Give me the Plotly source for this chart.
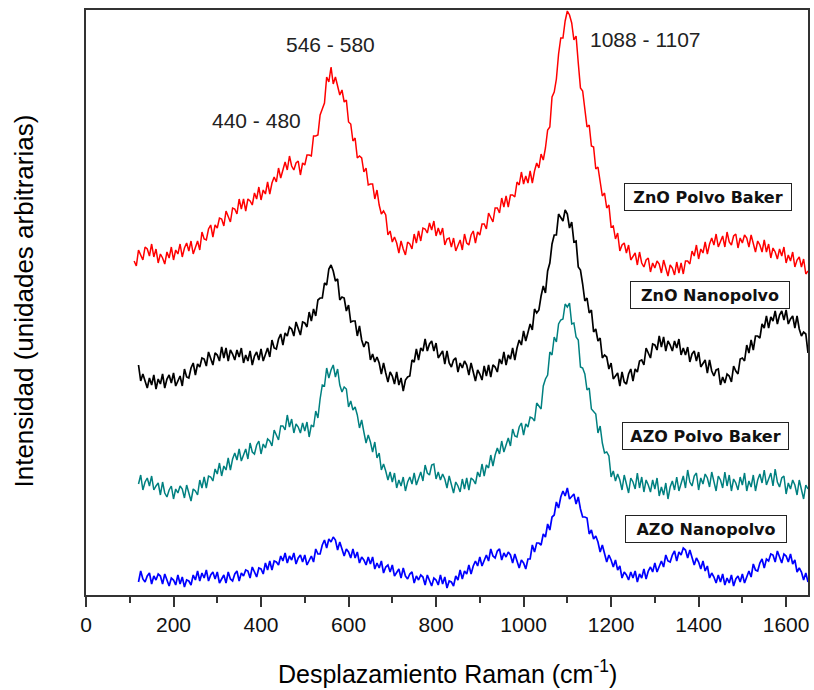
import plotly.graph_objects as go

# Raman shift grids (cm^-1)
x_red = list(range(110, 1651, 5))
x_other = list(range(120, 1651, 5))

# Intensities (arbitrary units, stacked offsets as in the figure)
zno_polvo_baker = [
    334, 329, 345, 339, 335, 348, 346, 339, 351, 338, 346, 332, 341, 337, 331, 343, 337, 348, 335, 345,
    341, 351, 338, 347, 352, 344, 354, 341, 347, 354, 345, 363, 356, 355, 366, 370, 358, 370, 367, 377,
    376, 369, 384, 378, 373, 387, 386, 381, 396, 386, 396, 384, 396, 394, 390, 402, 396, 408, 395, 405,
    401, 413, 401, 412, 418, 413, 427, 417, 426, 433, 425, 439, 429, 425, 432, 434, 420, 432, 430, 440,
    440, 439, 459, 459, 460, 480, 486, 492, 518, 513, 528, 511, 518, 510, 500, 505, 493, 495, 473, 471,
    454, 457, 437, 439, 437, 423, 427, 410, 411, 411, 396, 405, 390, 381, 384, 380, 360, 364, 353, 358,
    352, 342, 354, 346, 340, 353, 351, 346, 361, 352, 364, 354, 367, 366, 362, 372, 365, 374, 359, 367,
    360, 367, 350, 356, 357, 348, 357, 344, 350, 355, 345, 361, 352, 350, 360, 364, 352, 363, 360, 371,
    371, 366, 382, 377, 373, 387, 387, 382, 397, 388, 399, 388, 400, 400, 398, 413, 410, 423, 411, 419,
    412, 424, 412, 424, 432, 427, 441, 435, 447, 465, 468, 498, 503, 516, 541, 557, 557, 574, 584, 580,
    572, 555, 559, 532, 507, 504, 486, 468, 470, 449, 448, 426, 428, 415, 399, 402, 387, 390, 368, 369,
    356, 362, 344, 350, 352, 342, 350, 335, 339, 342, 330, 343, 332, 328, 335, 337, 323, 332, 327, 334,
    331, 322, 335, 326, 319, 330, 327, 320, 333, 322, 332, 321, 334, 334, 331, 344, 339, 350, 336, 346,
    342, 353, 341, 351, 357, 350, 361, 348, 354, 359, 348, 363, 353, 350, 359, 361, 347, 357, 352, 360,
    357, 348, 360, 351, 343, 354, 350, 343, 355, 343, 351, 337, 347, 343, 336, 346, 339, 348, 332, 340,
    334, 343, 328, 335, 338, 328, 336, 321, 324]

zno_nanopolvo = [
    230, 214, 221, 215, 207, 217, 210, 220, 206, 216, 211, 221, 207, 216, 220, 212, 222, 209,
    214, 219, 209, 226, 218, 217, 227, 232, 220, 231, 228, 237, 236, 229, 243, 236, 230, 242, 240, 234,
    248, 237, 247, 234, 245, 241, 235, 245, 238, 247, 232, 240, 234, 244, 230, 239, 243, 235, 246, 234,
    240, 247, 238, 255, 247, 246, 256, 261, 250, 262, 259, 268, 266, 259, 273, 266, 260, 273, 272, 268,
    283, 274, 286, 279, 295, 297, 297, 312, 310, 326, 330, 324, 314, 316, 295, 298, 297, 284, 290, 273,
    274, 274, 259, 269, 255, 248, 253, 252, 235, 241, 233, 238, 232, 221, 232, 222, 213, 223, 219, 211,
    223, 210, 217, 204, 215, 218, 219, 235, 233, 246, 235, 247, 244, 256, 244, 251, 254, 244, 252, 237,
    241, 244, 231, 244, 232, 228, 235, 237, 223, 232, 227, 234, 230, 220, 232, 222, 214, 225, 221, 215,
    229, 219, 230, 218, 230, 228, 223, 236, 231, 243, 230, 240, 236, 247, 235, 247, 255, 250, 264, 254,
    262, 271, 265, 286, 282, 285, 299, 309, 302, 324, 332, 351, 360, 360, 381, 377, 374, 385, 381, 367,
    373, 353, 354, 328, 325, 311, 294, 297, 282, 285, 263, 266, 254, 257, 237, 240, 238, 226, 232, 216,
    219, 222, 209, 223, 213, 211, 221, 226, 214, 226, 223, 234, 235, 230, 247, 241, 237, 251, 250, 245,
    259, 248, 258, 244, 254, 250, 244, 254, 247, 256, 240, 247, 240, 248, 233, 241, 244, 234, 243, 228,
    232, 235, 222, 235, 224, 219, 225, 226, 210, 218, 212, 221, 219, 213, 229, 224, 221, 236, 237, 234,
    250, 242, 255, 245, 259, 259, 257, 271, 267, 279, 267, 278, 274, 284, 271, 280, 284, 275, 285, 271,
    276, 279, 267, 279, 266, 259, 263, 261, 242]

azo_polvo_baker = [
    111, 120, 105, 113, 117, 109, 119, 105, 109, 112, 100, 113, 102, 98, 105, 109, 96, 106,
    102, 109, 106, 97, 110, 101, 94, 106, 104, 100, 115, 107, 118, 107, 119, 118, 114, 126, 121, 132,
    119, 129, 125, 137, 125, 136, 142, 135, 146, 134, 140, 146, 136, 152, 143, 141, 150, 154, 141, 151,
    147, 156, 154, 149, 165, 159, 155, 169, 169, 165, 180, 168, 176, 162, 171, 168, 162, 172, 164, 173,
    158, 170, 168, 184, 177, 196, 210, 209, 227, 217, 225, 230, 218, 226, 210, 203, 208, 206, 188, 194,
    185, 188, 180, 167, 175, 163, 152, 160, 153, 143, 153, 137, 142, 125, 131, 124, 115, 123, 113, 122,
    107, 115, 109, 118, 104, 113, 118, 111, 122, 110, 117, 123, 114, 130, 122, 120, 130, 131, 116, 123,
    115, 121, 116, 107, 119, 110, 102, 113, 109, 103, 116, 106, 117, 105, 117, 115, 111, 123, 118, 131,
    119, 130, 127, 140, 129, 140, 147, 141, 154, 143, 150, 157, 149, 166, 159, 158, 168, 172, 160, 171,
    168, 178, 177, 174, 192, 189, 186, 209, 216, 220, 243, 240, 258, 253, 271, 275, 276, 291, 288, 292,
    271, 272, 258, 255, 228, 227, 221, 205, 207, 186, 184, 181, 162, 169, 152, 142, 143, 139, 118, 124,
    114, 121, 115, 105, 120, 111, 102, 117, 113, 106, 122, 107, 118, 103, 115, 110, 103, 115, 106, 117,
    99, 108, 100, 112, 96, 108, 114, 105, 118, 104, 112, 119, 107, 125, 113, 109, 119, 122, 105, 117,
    111, 121, 117, 108, 123, 114, 104, 119, 115, 107, 123, 109, 120, 104, 116, 112, 105, 118, 110, 122,
    104, 114, 108, 120, 104, 115, 121, 112, 125, 110, 117, 122, 109, 126, 113, 108, 117, 119, 101, 112,
    106, 115, 110, 100, 115, 105, 96, 110, 106]

azo_nanopolvo = [
    13, 24, 16, 13, 19, 22, 11, 19, 15, 21, 19, 11, 21, 14, 9, 17, 15, 10,
    20, 11, 18, 8, 15, 14, 10, 20, 15, 24, 14, 22, 17, 25, 14, 20, 23, 16, 23, 12,
    16, 20, 12, 23, 16, 14, 21, 24, 14, 22, 19, 25, 24, 17, 28, 22, 18, 27, 26, 21,
    32, 25, 34, 25, 34, 33, 30, 39, 34, 42, 32, 39, 35, 42, 31, 37, 40, 33, 40, 30,
    34, 39, 33, 46, 41, 41, 50, 55, 47, 56, 53, 58, 55, 45, 53, 45, 39, 46, 43, 37,
    46, 37, 43, 32, 38, 35, 30, 38, 31, 38, 26, 32, 27, 34, 22, 28, 30, 23, 30, 19,
    23, 26, 17, 27, 19, 16, 21, 23, 12, 19, 15, 20, 18, 10, 20, 14, 9, 17, 15, 10,
    20, 11, 18, 7, 14, 13, 9, 19, 15, 25, 16, 24, 21, 30, 21, 29, 34, 29, 38, 29,
    35, 40, 34, 46, 39, 37, 44, 46, 35, 42, 38, 43, 40, 32, 41, 33, 27, 35, 32, 26,
    36, 36, 50, 43, 52, 52, 50, 61, 58, 71, 65, 78, 80, 93, 87, 98, 104, 99, 107, 96,
    99, 101, 91, 98, 86, 78, 78, 77, 61, 65, 56, 59, 53, 43, 50, 41, 33, 40, 35, 28,
    35, 25, 29, 17, 23, 20, 15, 23, 17, 24, 13, 21, 17, 26, 16, 24, 28, 23, 32, 23,
    29, 34, 28, 40, 34, 33, 40, 44, 34, 43, 40, 47, 45, 37, 45, 37, 30, 37, 33, 26,
    34, 24, 29, 17, 22, 18, 12, 20, 13, 21, 10, 17, 12, 20, 9, 16, 19, 13, 21, 12,
    18, 24, 18, 31, 25, 24, 32, 36, 27, 36, 34, 41, 40, 33, 44, 37, 32, 41, 39, 33,
    41, 31, 35, 23, 27, 23, 15, 22, 13]

series_names = ["ZnO Polvo Baker", "ZnO Nanopolvo", "AZO Polvo Baker", "AZO Nanopolvo"]
series_colors = ["#ff0000", "#000000", "#008080", "#0000ff"]
series_widths = [1.5, 1.7, 1.5, 1.7]
series_x = [x_red, x_other, x_other, x_other]
series_y = [zno_polvo_baker, zno_nanopolvo, azo_polvo_baker, azo_nanopolvo]

# label positions (data coords)
label_x = [1422, 1425, 1416, 1418]
label_y = [398, 300, 159, 66]
label_w = [160, 152, 159, 154]

peak_texts = ["546 - 580", "440 - 480", "1088 - 1107"]
peak_x = [558, 389, 1279]
peak_y = [551, 475, 556]

xtick_vals = [0, 200, 400, 600, 800, 1000, 1200, 1400, 1600]

fig = go.Figure()
for name, col, w, xs, ys in zip(series_names, series_colors, series_widths, series_x, series_y):
    n = min(len(xs), len(ys))
    fig.add_trace(go.Scatter(x=xs[:n], y=ys[:n], mode="lines", name=name,
                             line=dict(color=col, width=w), showlegend=False))

annotations = []
for name, lx, ly, lw in zip(series_names, label_x, label_y, label_w):
    annotations.append(dict(x=lx, y=ly, xref="x", yref="y", text=name, showarrow=False,
                            font=dict(family="DejaVu Sans", size=16, color="#111", weight="bold"),
                            bgcolor="white", bordercolor="#222", borderwidth=1, borderpad=3,
                            width=lw, height=20, xanchor="center", yanchor="middle"))
for t, px, py in zip(peak_texts, peak_x, peak_y):
    annotations.append(dict(x=px, y=py, xref="x", yref="y", text=t, showarrow=False,
                            font=dict(family="Liberation Sans, Arial", size=21, color="#222"),
                            xanchor="center", yanchor="middle"))

annotations.append(dict(x=0.5, y=-0.1316, xref="paper", yref="paper",
                        text="Desplazamiento Raman (cm<sup>-1</sup>)", showarrow=False,
                        font=dict(family="Liberation Sans, Arial", size=25, color="#000"),
                        xanchor="center", yanchor="middle"))
annotations.append(dict(x=-0.0856, y=0.502, xref="paper", yref="paper",
                        text="Intensidad (unidades arbitrarias)", showarrow=False, textangle=-90,
                        font=dict(family="Liberation Sans, Arial", size=26, color="#000"),
                        xanchor="center", yanchor="middle"))

fig.update_layout(
    width=814, height=690,
    margin=dict(l=86, r=4, t=10, b=95),
    plot_bgcolor="white", paper_bgcolor="white",
    annotations=annotations,
    xaxis=dict(range=[0, 1650], tickvals=xtick_vals, ticks="outside", ticklen=10,
               tickwidth=1.5, tickcolor="#333", showgrid=False, zeroline=False,
               showline=True, linecolor="#333", linewidth=1.5, mirror=True,
               tickfont=dict(family="Liberation Sans, Arial", size=21, color="#111"),
               minor=dict(dtick=100, ticks="outside", ticklen=6, tickwidth=1.5, tickcolor="#333")),
    yaxis=dict(range=[0, 585], showticklabels=False, ticks="", showgrid=False, zeroline=False,
               showline=True, linecolor="#333", linewidth=1.5, mirror=True),
)

fig.write_html("out.html")
